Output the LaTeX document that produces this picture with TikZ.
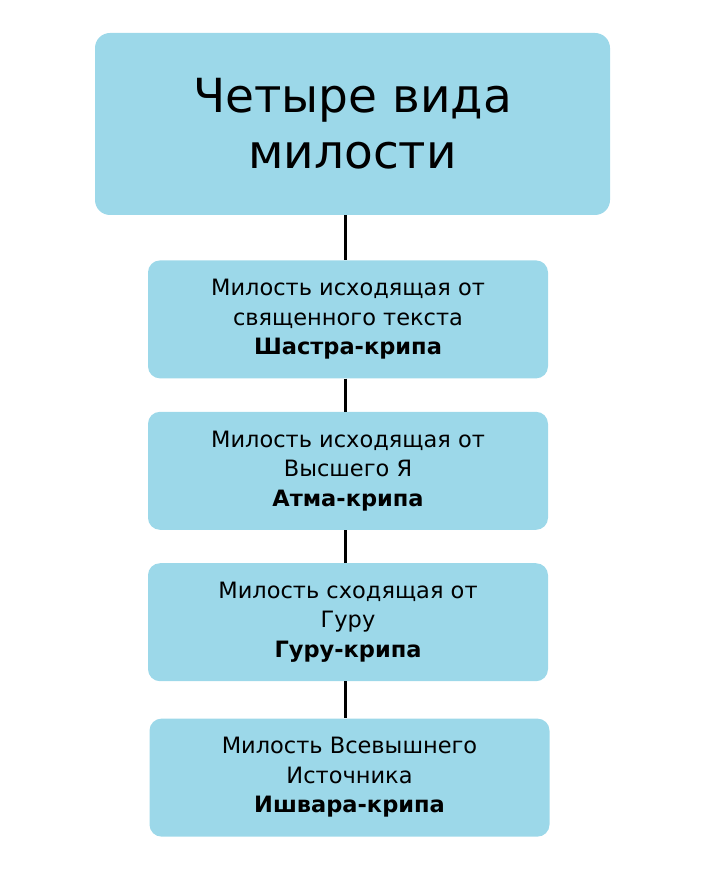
\documentclass[tikz,border=0pt]{standalone}
\usepackage{fontspec}
\setmainfont{DejaVu Sans}
\usepackage{tikz}
\usetikzlibrary{positioning}

\definecolor{boxblue}{HTML}{9CD8E9}

\tikzset{
    kripa/.style={fill=boxblue, rounded corners=12pt, minimum width=400pt, minimum height=118pt,
        align=center, inner sep=0pt, font=\fontsize{22.5}{29.5}\selectfont},
    headbox/.style={kripa, rounded corners=15pt, minimum width=515pt, minimum height=182pt,
        font=\fontsize{47}{56}\selectfont},
    link/.style={line width=3pt}
}

\begin{document}
\begin{tikzpicture}[x=1pt, y=-1pt]
    \useasboundingbox (0,0) rectangle (724,882);

    \node[headbox] (title) at (352.5,124) {Четыре вида\\милости};
    \node[kripa, below=45pt of title, xshift=-4.5pt] (shastra)
        {Милость исходящая от\\священного текста\\\textbf{Шастра-крипа}};
    \node[kripa, below=33pt of shastra] (atma)
        {Милость исходящая от\\Высшего Я\\\textbf{Атма-крипа}};
    \node[kripa, below=33pt of atma] (guru)
        {Милость сходящая от\\Гуру\\\textbf{Гуру-крипа}};
    \node[kripa, below=37pt of guru, xshift=1.5pt] (ishvara)
        {Милость Всевышнего\\Источника\\\textbf{Ишвара-крипа}};

    % vertical spine
    \coordinate (axis) at (345,0);
    \draw[link] (title.south -| axis) -- (shastra.north -| axis);
    \draw[link] (shastra.south -| axis) -- (atma.north -| axis);
    \draw[link] (atma.south -| axis) -- (guru.north -| axis);
    \draw[link] (guru.south -| axis) -- (ishvara.north -| axis);
\end{tikzpicture}
\end{document}
